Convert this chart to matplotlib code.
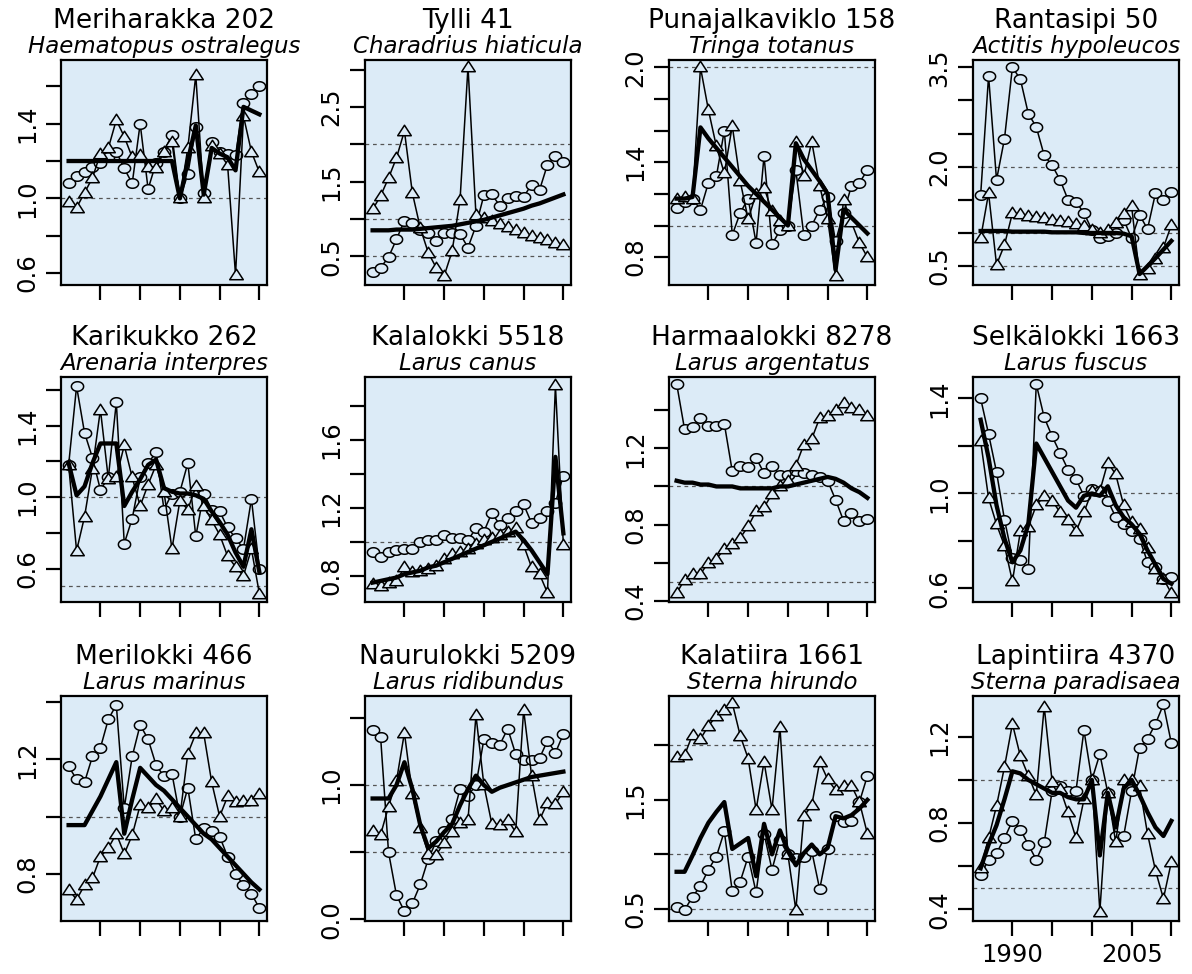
import matplotlib
matplotlib.use("Agg")
import numpy as np
import matplotlib.pyplot as plt
from matplotlib.path import Path

plt.rcParams['font.family'] = ['DejaVu Sans']

years = list(range(1986, 2011))

titles = ["Meriharakka 202", "Tylli 41", "Punajalkaviklo 158", "Rantasipi 50",
          "Karikukko 262", "Kalalokki 5518", "Harmaalokki 8278", "Selkälokki 1663",
          "Merilokki 466", "Naurulokki 5209", "Kalatiira 1661", "Lapintiira 4370"]
latin = ["Haematopus ostralegus", "Charadrius hiaticula", "Tringa totanus", "Actitis hypoleucos",
         "Arenaria interpres", "Larus canus", "Larus argentatus", "Larus fuscus",
         "Larus marinus", "Larus ridibundus", "Sterna hirundo", "Sterna paradisaea"]

# circles, triangles and the thick fitted line for each species
meriharakka_circ = [1.08, 1.12, 1.14, 1.17, 1.19, 1.22, 1.25, 1.16, 1.08, 1.40, 1.05, 1.19, 1.25,
                    1.34, 1.00, 1.13, 1.38, 1.03, 1.30, 1.25, 1.24, 1.23, 1.51, 1.56, 1.60]
meriharakka_tri = [0.98, 0.95, 1.03, 1.11, 1.24, 1.27, 1.42, 1.33, 1.22, 1.23, 1.17, 1.16, 1.25,
                   1.30, 1.00, 1.27, 1.66, 1.00, 1.28, 1.24, 1.18, 0.59, 1.44, 1.25, 1.14]
meriharakka_fit = [1.20, 1.20, 1.20, 1.20, 1.20, 1.20, 1.20, 1.20, 1.20, 1.20, 1.20, 1.20, 1.20,
                   1.20, 1.00, 1.20, 1.39, 1.02, 1.27, 1.24, 1.22, 1.15, 1.49, 1.47, 1.45]

tylli_circ = [0.29, 0.35, 0.49, 0.73, 0.98, 0.95, 0.86, 0.82, 0.71, 0.82, 0.82, 0.80, 0.62,
              0.91, 1.32, 1.33, 1.18, 1.28, 1.31, 1.30, 1.46, 1.39, 1.73, 1.84, 1.76]
tylli_tri = [1.13, 1.31, 1.55, 1.82, 2.18, 1.35, 0.88, 0.55, 0.35, 0.24, 0.57, 1.26, 3.04,
             1.06, 1.02, 0.98, 0.94, 0.90, 0.86, 0.82, 0.78, 0.75, 0.72, 0.68, 0.65]
tylli_fit = [0.85, 0.85, 0.85, 0.86, 0.86, 0.86, 0.87, 0.88, 0.89, 0.90, 0.91, 0.93, 0.95,
             0.97, 0.99, 1.02, 1.05, 1.08, 1.11, 1.14, 1.18, 1.21, 1.25, 1.29, 1.33]

punajalka_circ = [1.11, 1.15, 1.17, 1.10, 1.27, 1.31, 1.60, 0.94, 1.08, 1.17, 0.89, 1.44, 0.88,
                  0.97, 1.00, 1.35, 0.94, 1.00, 1.10, 1.18, 0.90, 1.08, 1.25, 1.27, 1.35]
punajalka_tri = [1.17, 1.18, 1.17, 2.00, 1.73, 1.50, 1.33, 1.63, 1.28, 1.04, 1.20, 1.24, 1.09,
                 1.03, 1.00, 1.53, 1.31, 1.53, 1.25, 1.04, 0.68, 1.16, 1.02, 0.89, 0.80]
punajalka_fit = [1.17, 1.17, 1.18, 1.62, 1.55, 1.49, 1.43, 1.37, 1.31, 1.25, 1.20, 1.15, 1.10,
                 1.05, 1.00, 1.52, 1.42, 1.35, 1.28, 1.20, 0.72, 1.10, 1.05, 1.00, 0.95]

rantasipi_circ = [1.57, 3.37, 1.80, 2.42, 3.50, 3.32, 2.80, 2.60, 2.17, 2.02, 1.80, 1.50, 1.47,
                  1.30, 1.05, 0.92, 0.96, 1.00, 1.20, 0.92, 1.27, 1.06, 1.60, 1.50, 1.62]
rantasipi_tri = [0.92, 1.60, 0.52, 0.82, 1.30, 1.28, 1.26, 1.24, 1.22, 1.20, 1.18, 1.16, 1.13,
                 1.10, 1.05, 1.00, 1.05, 1.15, 1.28, 1.40, 0.36, 0.45, 0.60, 0.78, 1.12]
rantasipi_fit = [1.03, 1.03, 1.03, 1.03, 1.02, 1.02, 1.02, 1.02, 1.02, 1.01, 1.01, 1.01, 1.01,
                 1.00, 1.00, 1.00, 1.00, 1.00, 0.99, 0.95, 0.38, 0.50, 0.62, 0.75, 0.88]

karikukko_circ = [1.18, 1.62, 1.36, 1.22, 1.04, 1.11, 1.53, 0.74, 0.88, 1.11, 1.19, 1.25, 0.93,
                  1.02, 1.03, 1.19, 0.78, 1.02, 0.93, 0.92, 0.83, 0.77, 0.71, 0.99, 0.60]
karikukko_tri = [1.18, 0.70, 0.89, 1.16, 1.49, 1.10, 1.11, 1.29, 1.11, 0.95, 1.07, 1.18, 1.03,
                 0.71, 0.98, 0.93, 1.06, 0.95, 0.87, 0.79, 0.67, 0.61, 0.56, 0.71, 0.46]
karikukko_fit = [1.19, 1.01, 1.06, 1.19, 1.30, 1.30, 1.30, 0.95, 1.03, 1.10, 1.18, 1.21, 1.05,
                 1.03, 1.02, 1.02, 1.01, 0.99, 0.92, 0.86, 0.79, 0.69, 0.61, 0.82, 0.58]

kalalokki_circ = [0.94, 0.91, 0.94, 0.95, 0.96, 0.96, 1.00, 1.01, 1.01, 1.04, 1.02, 1.02, 1.01,
                  1.08, 1.06, 1.17, 1.10, 1.14, 1.18, 1.22, 1.11, 1.14, 1.18, 1.23, 1.39]
kalalokki_tri = [0.75, 0.74, 0.76, 0.77, 0.85, 0.82, 0.83, 0.84, 0.86, 0.90, 0.93, 0.94, 0.96,
                 0.99, 1.01, 1.02, 1.04, 1.06, 1.08, 0.98, 0.85, 0.81, 0.70, 1.92, 0.98]
kalalokki_fit = [0.76, 0.77, 0.78, 0.79, 0.81, 0.82, 0.83, 0.85, 0.86, 0.88, 0.90, 0.92, 0.94,
                 0.96, 0.98, 1.00, 1.02, 1.04, 1.06, 1.01, 0.95, 0.88, 0.81, 1.50, 1.05]

harmaalokki_circ = [1.54, 1.30, 1.31, 1.36, 1.32, 1.32, 1.33, 1.08, 1.11, 1.10, 1.15, 1.07, 1.11,
                    1.06, 1.06, 1.08, 1.07, 1.06, 1.05, 1.03, 0.93, 0.82, 0.86, 0.82, 0.83]
harmaalokki_tri = [0.44, 0.51, 0.54, 0.54, 0.60, 0.62, 0.67, 0.70, 0.73, 0.79, 0.87, 0.89, 0.96,
                   1.00, 1.03, 1.11, 1.22, 1.25, 1.36, 1.37, 1.40, 1.44, 1.41, 1.40, 1.37]
harmaalokki_fit = [1.03, 1.02, 1.02, 1.01, 1.01, 1.00, 1.00, 1.00, 0.99, 0.99, 0.99, 0.99, 0.99,
                   1.00, 1.00, 1.01, 1.02, 1.03, 1.04, 1.05, 1.04, 1.02, 0.99, 0.97, 0.94]

selkalokki_circ = [1.40, 1.25, 1.09, 0.89, 0.73, 0.72, 0.68, 1.46, 1.32, 1.24, 1.17, 1.10, 1.06,
                   0.99, 1.02, 1.01, 0.97, 0.90, 0.87, 0.84, 0.81, 0.71, 0.69, 0.64, 0.65]
selkalokki_tri = [1.22, 0.98, 0.87, 0.78, 0.63, 0.84, 0.86, 0.95, 0.99, 0.97, 0.92, 0.89, 0.84,
                  0.92, 1.01, 1.01, 1.13, 1.08, 0.95, 0.88, 0.85, 0.77, 0.68, 0.64, 0.58]
selkalokki_fit = [1.31, 1.15, 0.95, 0.81, 0.71, 0.76, 0.87, 1.21, 1.15, 1.09, 1.03, 0.97, 0.94,
                  0.99, 1.00, 0.99, 1.03, 0.95, 0.90, 0.87, 0.83, 0.76, 0.70, 0.64, 0.62]

merilokki_circ = [1.175, 1.13, 1.12, 1.21, 1.24, 1.34, 1.39, 1.03, 1.21, 1.32, 1.27, 1.18, 1.14,
                  1.15, 1.00, 1.10, 0.92, 0.96, 0.95, 0.93, 0.86, 0.80, 0.76, 0.73, 0.68]
merilokki_tri = [0.745, 0.71, 0.76, 0.785, 0.86, 0.89, 0.94, 0.87, 0.935, 1.04, 1.03, 1.06, 1.02,
                 1.03, 1.00, 1.22, 1.29, 1.29, 1.12, 1.00, 1.07, 1.05, 1.055, 1.055, 1.08]
merilokki_fit = [0.97, 0.97, 0.97, 1.02, 1.07, 1.13, 1.19, 0.94, 1.06, 1.17, 1.14, 1.11, 1.09,
                 1.06, 1.03, 1.00, 0.97, 0.94, 0.92, 0.89, 0.86, 0.83, 0.80, 0.77, 0.745]

naurulokki_circ = [1.41, 1.36, 0.50, 0.18, 0.06, 0.12, 0.26, 0.45, 0.58, 0.66, 0.75, 0.97, 0.92,
                   1.00, 1.34, 1.31, 1.30, 1.42, 1.23, 1.19, 1.19, 1.20, 1.33, 1.24, 1.38]
naurulokki_tri = [0.66, 0.63, 0.84, 1.03, 1.39, 0.93, 0.68, 0.49, 0.48, 0.57, 0.65, 0.72, 0.74,
                  1.52, 1.00, 0.71, 0.70, 0.74, 0.65, 1.56, 1.07, 0.74, 0.87, 0.86, 0.95]
naurulokki_fit = [0.90, 0.90, 0.90, 1.00, 1.17, 0.97, 0.70, 0.53, 0.58, 0.65, 0.71, 0.85, 0.97,
                  1.07, 1.00, 0.95, 0.98, 1.00, 1.02, 1.04, 1.06, 1.07, 1.08, 1.09, 1.10]

kalatiira_circ = [0.52, 0.49, 0.61, 0.71, 0.86, 0.98, 1.21, 0.66, 0.75, 0.98, 0.65, 1.19, 0.86,
                  1.13, 1.00, 0.97, 0.98, 1.03, 0.68, 1.05, 1.35, 1.30, 1.31, 1.48, 1.72]
kalatiira_tri = [1.89, 1.91, 2.10, 2.06, 2.18, 2.27, 2.33, 2.39, 2.09, 1.88, 1.41, 1.85, 1.41,
                 2.17, 1.00, 0.49, 1.35, 1.45, 1.85, 1.69, 1.59, 1.63, 1.63, 1.48, 1.19]
kalatiira_fit = [0.84, 0.84, 0.99, 1.15, 1.29, 1.39, 1.48, 1.05, 1.10, 1.15, 0.80, 1.28, 1.00,
                 1.22, 1.03, 0.90, 1.01, 1.09, 1.00, 1.06, 1.35, 1.33, 1.36, 1.42, 1.50]

lapintiira_circ = [0.56, 0.63, 0.66, 0.73, 0.81, 0.77, 0.70, 0.63, 0.71, 0.95, 0.97, 0.95, 0.95,
                   1.23, 1.00, 1.12, 0.94, 0.74, 0.74, 0.95, 1.15, 1.19, 1.26, 1.35, 1.17]
lapintiira_tri = [0.59, 0.73, 0.88, 1.06, 1.26, 1.11, 1.02, 0.93, 1.34, 0.99, 0.96, 0.85, 0.73,
                  0.91, 1.00, 0.39, 0.94, 0.71, 1.00, 1.00, 0.97, 0.75, 0.58, 0.45, 0.62]
lapintiira_fit = [0.59, 0.70, 0.79, 0.91, 1.04, 1.03, 1.00, 0.98, 0.96, 0.94, 0.94, 0.92, 0.91,
                  0.91, 1.00, 0.65, 0.94, 0.78, 0.96, 1.00, 0.93, 0.85, 0.78, 0.74, 0.81]

series = [
    (meriharakka_circ, meriharakka_tri, meriharakka_fit),
    (tylli_circ, tylli_tri, tylli_fit),
    (punajalka_circ, punajalka_tri, punajalka_fit),
    (rantasipi_circ, rantasipi_tri, rantasipi_fit),
    (karikukko_circ, karikukko_tri, karikukko_fit),
    (kalalokki_circ, kalalokki_tri, kalalokki_fit),
    (harmaalokki_circ, harmaalokki_tri, harmaalokki_fit),
    (selkalokki_circ, selkalokki_tri, selkalokki_fit),
    (merilokki_circ, merilokki_tri, merilokki_fit),
    (naurulokki_circ, naurulokki_tri, naurulokki_fit),
    (kalatiira_circ, kalatiira_tri, kalatiira_fit),
    (lapintiira_circ, lapintiira_tri, lapintiira_fit),
]

# y axis: limits, tick marks, and which ticks carry a label
y_limits = [(0.536, 1.741), (0.118, 3.13), (0.624, 2.046), (0.215, 3.61),
            (0.413, 1.672), (0.646, 1.97), (0.393, 1.575), (0.543, 1.49),
            (0.635, 1.421), (-0.012, 1.663), (0.388, 2.454), (0.346, 1.389)]
y_ticks = [[0.6, 0.8, 1.0, 1.2, 1.4, 1.6], [0.5, 1.0, 1.5, 2.0, 2.5, 3.0],
           [0.8, 1.0, 1.2, 1.4, 1.6, 1.8, 2.0], [0.5, 1.0, 1.5, 2.0, 2.5, 3.0, 3.5],
           [0.6, 0.8, 1.0, 1.2, 1.4, 1.6], [0.8, 1.0, 1.2, 1.4, 1.6, 1.8],
           [0.4, 0.6, 0.8, 1.0, 1.2, 1.4], [0.6, 0.8, 1.0, 1.2, 1.4],
           [0.8, 1.0, 1.2, 1.4], [0.0, 0.5, 1.0, 1.5],
           [0.5, 1.0, 1.5, 2.0], [0.4, 0.6, 0.8, 1.0, 1.2]]
y_shown = [[0.6, 1.0, 1.4], [0.5, 1.5, 2.5], [0.8, 1.4, 2.0], [0.5, 2.0, 3.5],
           [0.6, 1.0, 1.4], [0.8, 1.2, 1.6], [0.4, 0.8, 1.2], [0.6, 1.0, 1.4],
           [0.8, 1.2], [0.0, 1.0], [0.5, 1.5], [0.4, 0.8, 1.2]]
ref_levels = [0.5, 1.0, 2.0]
x_ticks = [1990, 1995, 2000, 2005, 2010]
x_shown = [1990, 2005]

# the source picture is stretched sideways, so the markers are too
t = np.linspace(0, 2 * np.pi, 64)
oval = Path(np.column_stack([np.cos(t), 0.78 * np.sin(t)]), closed=True)
wide_tri = Path([(-1.0, -0.62), (1.0, -0.62), (0.0, 0.92), (-1.0, -0.62)], closed=True)

W, H = 1192, 974
col_left = [61, 365, 669, 973]
row_top = [60, 377, 696]
pw, ph = 206, 225
bg = '#dcebf7'

fig = plt.figure(figsize=(W / 100, H / 100), dpi=100)

for k in range(12):
    r, c = divmod(k, 4)
    left, top = col_left[c], row_top[r]
    ax = fig.add_axes([left / W, 1 - (top + ph) / H, pw / W, ph / H])
    ax.set_facecolor(bg)
    circ, tri, fit = series[k]
    for lev in ref_levels:
        ax.axhline(lev, color='#555555', lw=0.9, ls=(0, (3, 3)), zorder=1)
    ax.plot(years, circ, color='black', lw=1.1, marker=oval, ms=8.8,
            mfc=bg, mec='black', mew=1.1, zorder=3)
    ax.plot(years, tri, color='black', lw=1.1, marker=wide_tri, ms=9.8,
            mfc=bg, mec='black', mew=1.1, zorder=3)
    ax.plot(years, fit, color='black', lw=3.1, zorder=4)

    ax.set_xlim(1985.04, 2010.96)
    ax.set_ylim(*y_limits[k])
    ax.set_yticks(y_ticks[k])
    ax.set_yticklabels([('%.1f' % v) if v in y_shown[k] else '' for v in y_ticks[k]],
                       rotation=90, va='center')
    ax.set_xticks(x_ticks)
    if k == 11:
        ax.set_xticklabels([str(v) if v in x_shown else '' for v in x_ticks])
    else:
        ax.set_xticklabels([])
    ax.tick_params(direction='out', length=11, width=1.6, labelsize=17.5)
    ax.tick_params(axis='y', pad=4.5)
    ax.tick_params(axis='x', pad=5)
    for s in ax.spines.values():
        s.set_linewidth(1.6)

    cx = (left + pw / 2) / W
    fig.text(cx, 1 - (top - 32) / H, titles[k], ha='center', va='baseline', fontsize=19)
    fig.text(cx, 1 - (top - 7) / H, latin[k], ha='center', va='baseline',
             fontsize=16.5, fontstyle='italic')

fig.savefig('out.png', dpi=100)
